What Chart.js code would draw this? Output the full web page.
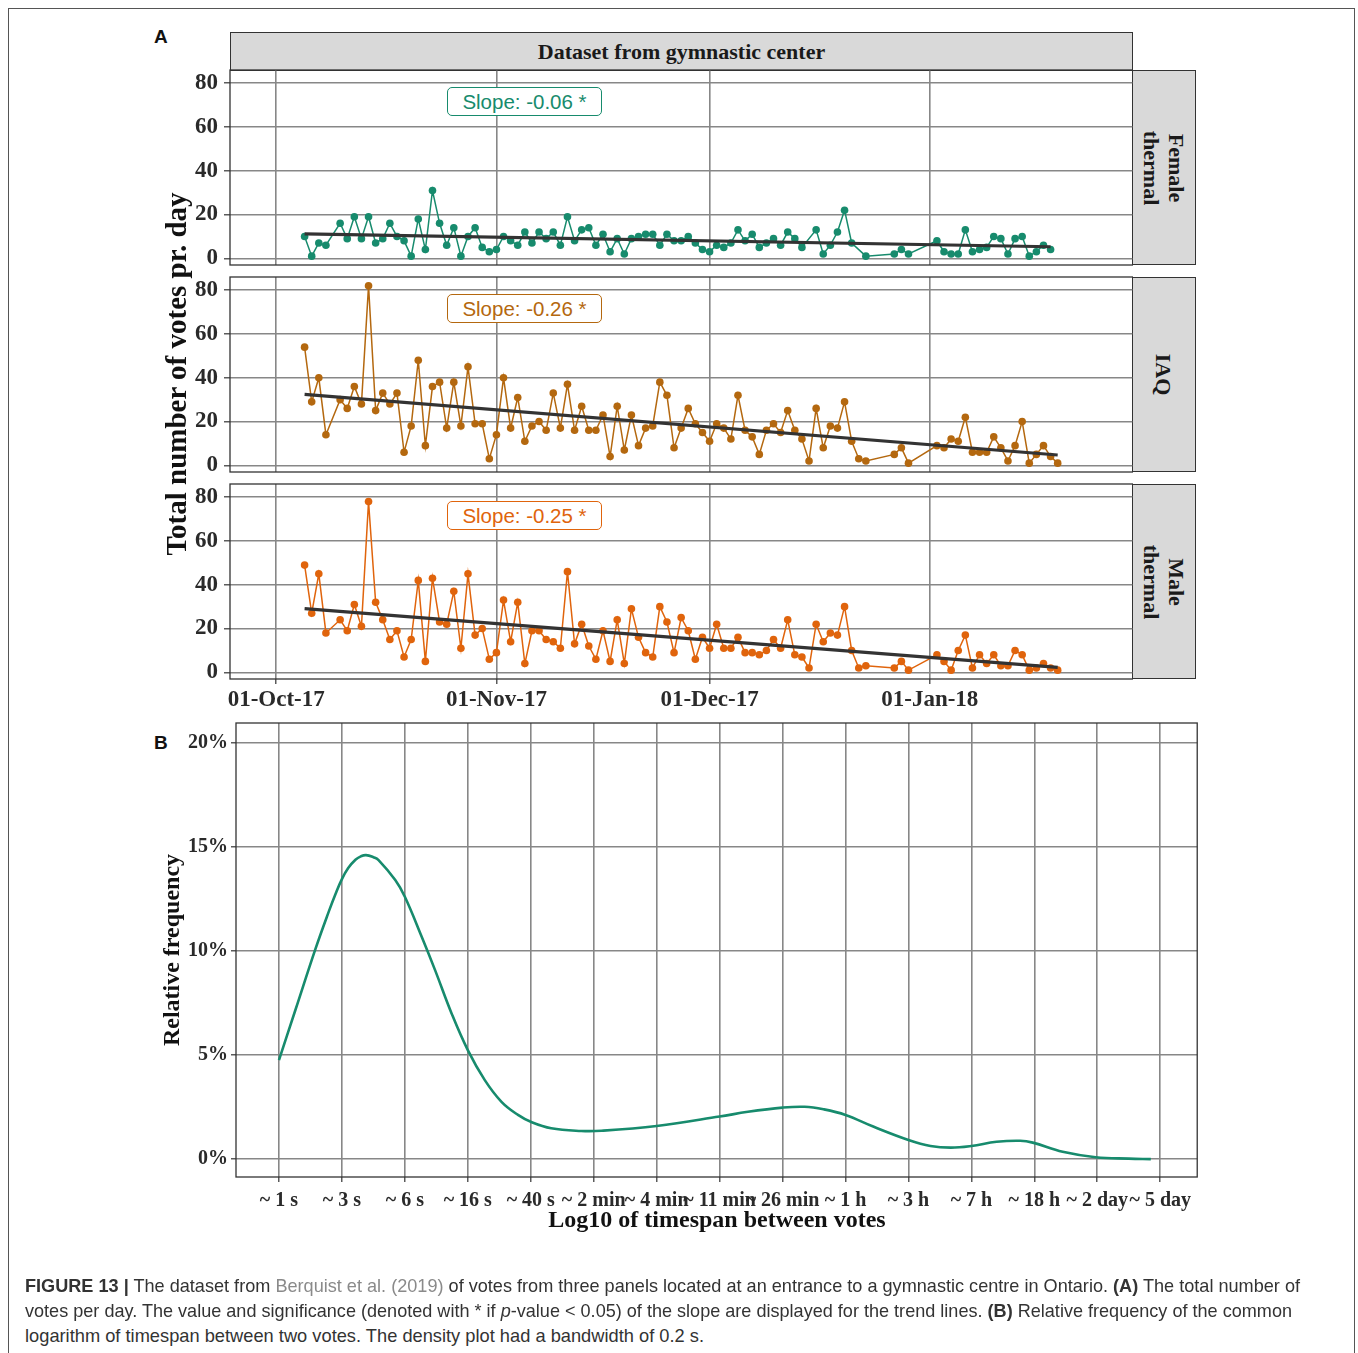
<!DOCTYPE html>
<html>
<head>
<meta charset="utf-8">
<script src="https://cdn.jsdelivr.net/npm/chart.js@4.4.1/dist/chart.umd.min.js"></script>
<style>
  body { margin: 0; width: 1358px; height: 1353px; background: #fff; position: relative; overflow: hidden; font-family: "Liberation Serif", serif; color: #222; }
  canvas { position: absolute; }
  .frame { position: absolute; left: 8px; top: 8px; width: 1347px; height: 1400px; border: 1px solid #555; box-sizing: border-box; }
  .letter { position: absolute; font: bold 19px "Liberation Sans", sans-serif; color: #111; }
  .strip { position: absolute; background: #d9d9d9; border: 1px solid #333; box-sizing: border-box; font-weight: bold; font-size: 22px; display: flex; align-items: center; justify-content: center; color: #1a1a1a; }
  .vstrip span { display: block; transform: rotate(90deg); white-space: nowrap; text-align: center; line-height: 25px; }
  .slope { position: absolute; width: 155px; height: 29px; box-sizing: border-box; border: 1px solid; border-radius: 5px; background: #fff; font: 20.5px "Liberation Sans", sans-serif; display: flex; align-items: center; justify-content: center; z-index: 2; }
  .vtitle { position: absolute; width: 700px; text-align: center; font-weight: bold; line-height: 1; transform: translate(-50%, -50%) rotate(-90deg); white-space: nowrap; color: #111; }
  .htitle { position: absolute; width: 700px; text-align: center; font-weight: bold; line-height: 1; transform: translate(-50%, -50%); white-space: nowrap; color: #111; }
  .capline { position: absolute; left: 25px; font: 19px "Liberation Sans", sans-serif; line-height: 25px; color: #333; white-space: nowrap; transform-origin: 0 50%; }
  .capline .ref { color: #8a8a8a; }
</style>
</head>
<body>
<div class="frame"></div>
<div class="letter" style="left:154px;top:26px;">A</div>
<div class="letter" style="left:154px;top:732px;">B</div>

<div class="strip" style="left:230px;top:32px;width:903px;height:39px;">Dataset from gymnastic center</div>
<div class="strip vstrip" style="left:1132px;top:70px;width:64px;height:195px;"><span>Female<br>thermal</span></div>
<div class="strip vstrip" style="left:1132px;top:277px;width:64px;height:195px;"><span>IAQ</span></div>
<div class="strip vstrip" style="left:1132px;top:484px;width:64px;height:195px;"><span>Male<br>thermal</span></div>

<div class="slope" id="s1" style="left:447px;top:87px;"></div>
<div class="slope" id="s2" style="left:447px;top:294px;"></div>
<div class="slope" id="s3" style="left:447px;top:501px;"></div>

<canvas id="c1"></canvas>
<canvas id="c2"></canvas>
<canvas id="c3"></canvas>
<canvas id="c4"></canvas>

<div class="vtitle" style="left:176px;top:374px;font-size:29px;">Total number of votes pr. day</div>
<div class="vtitle" style="left:171px;top:950px;font-size:24px;">Relative frequency</div>
<div class="htitle" style="left:717px;top:1219px;font-size:24px;">Log10 of timespan between votes</div>

<div class="capline" data-w="1275" style="top:1273px;"><b>FIGURE 13 |</b> The dataset from <span class="ref">Berquist et al. (2019)</span> of votes from three panels located at an entrance to a gymnastic centre in Ontario. <b>(A)</b> The total number of</div>
<div class="capline" data-w="1267" style="top:1298px;">votes per day. The value and significance (denoted with * if <i>p</i>-value &lt; 0.05) of the slope are displayed for the trend lines. <b>(B)</b> Relative frequency of the common</div>
<div class="capline" data-w="679" style="top:1323px;">logarithm of timespan between two votes. The density plot had a bandwidth of 0.2 s.</div>

<script>
// Days counted from 01-Oct-17 (day 0)
const femaleDays = [4,5,6,7,9,10,11,12,13,14,15,16,17,18,19,20,21,22,23,24,25,26,27,28,29,30,31,32,33,34,35,36,37,38,39,40,41,42,43,44,45,46,47,48,49,50,51,52,53,54,55,56,57,58,59,60,61,62,63,64,65,66,67,68,69,70,71,72,73,74,76,77,78,79,80,81,83,87,88,89,93,94,95,96,97,98,99,100,101,102,103,104,105,106,107,108,109];
const femaleVotes = [10,1,7,6,16,9,19,9,19,7,9,16,10,8,1,18,4,31,16,6,14,1,10,14,5,3,4,10,8,6,12,7,12,9,12,6,19,8,13,14,6,11,3,9,2,9,10,11,11,6,11,8,8,10,7,4,3,6,5,7,13,8,11,5,7,9,6,12,9,5,13,2,6,12,22,7,1,2,4,2,8,3,2,2,13,3,4,5,10,9,2,9,10,1,3,6,4];

const iaqDays = [4,5,6,7,9,10,11,12,13,14,15,16,17,18,19,20,21,22,23,24,25,26,27,28,29,30,31,32,33,34,35,36,37,38,39,40,41,42,43,44,45,46,47,48,49,50,51,52,53,54,55,56,57,58,59,60,61,62,63,64,65,66,67,68,69,70,71,72,73,74,75,76,77,78,79,80,81,82,83,87,88,89,93,94,95,96,97,98,99,100,101,102,103,104,105,106,107,108,109,110];
const iaqVotes = [54,29,40,14,30,26,36,28,82,25,33,28,33,6,18,48,9,36,38,17,38,18,45,19,19,3,14,40,17,31,11,18,20,16,33,17,37,16,27,16,16,23,4,27,7,23,9,17,18,38,32,8,17,26,19,15,11,19,17,12,32,16,13,5,16,19,15,25,16,12,2,26,8,18,17,29,11,3,2,5,8,1,9,8,12,11,22,6,6,6,13,8,2,9,20,1,5,9,4,1];

const maleDays = [4,5,6,7,9,10,11,12,13,14,15,16,17,18,19,20,21,22,23,24,25,26,27,28,29,30,31,32,33,34,35,36,37,38,39,40,41,42,43,44,45,46,47,48,49,50,51,52,53,54,55,56,57,58,59,60,61,62,63,64,65,66,67,68,69,70,71,72,73,74,75,76,77,78,79,80,81,82,83,87,88,89,93,94,95,96,97,98,99,100,101,102,103,104,105,106,107,108,109,110];
const maleVotes = [49,27,45,18,24,19,31,21,78,32,24,15,19,7,15,42,5,43,23,22,37,11,45,17,20,6,9,33,14,32,4,19,19,15,14,11,46,13,22,12,6,19,5,24,4,29,16,9,7,30,23,9,25,19,6,16,11,22,11,11,16,9,9,8,10,15,11,24,8,7,2,22,14,18,17,30,10,2,3,2,5,1,8,5,1,10,17,2,8,4,8,3,3,10,8,1,2,4,2,1];

const slopeTexts = ["Slope: -0.06 *", "Slope: -0.26 *", "Slope: -0.25 *"];

const dateTicks = [0, 31, 61, 92];
const dateLabels = ["01-Oct-17", "01-Nov-17", "01-Dec-17", "01-Jan-18"];
const voteTicks = [0, 20, 40, 60, 80];

// Panel B: density of log10(seconds between votes), in %
const densityX = [0,0.106,0.232,0.317,0.36,0.4,0.44,0.486,0.52,0.553,0.6,0.633,0.739,0.8,0.907,0.992,1.097,1.2,1.308,1.414,1.519,1.6,1.73,1.92,2.05,2.4,2.8,2.98,3.2,3.34,3.46,3.6,3.78,4.0,4.14,4.27,4.4,4.56,4.71,4.79,4.98,5.19,5.4,5.54];
const densityY = [4.76,7.2,10.1,11.9,12.75,13.45,13.98,14.38,14.54,14.6,14.5,14.36,13.4,12.6,10.68,9.08,7.0,5.24,3.8,2.76,2.13,1.8,1.49,1.36,1.37,1.6,2.05,2.28,2.48,2.52,2.4,2.13,1.56,0.93,0.64,0.56,0.64,0.84,0.89,0.8,0.36,0.1,0.03,0.01];
const logTicks = [0,0.4,0.8,1.2,1.6,2.0,2.4,2.8,3.2,3.6,4.0,4.4,4.8,5.2,5.6];
const logLabels = ["~ 1 s","~ 3 s","~ 6 s","~ 16 s","~ 40 s","~ 2 min","~ 4 min","~ 11 min","~ 26 min","~ 1 h","~ 3 h","~ 7 h","~ 18 h","~ 2 day","~ 5 day"];
const freqTicks = [0, 5, 10, 15, 20];

const tickFont = { family: "Liberation Serif", weight: "bold", size: 23 };
const gridColor = "#878787";

// draws the dark frame round each panel
const panelBorder = {
  id: "panelBorder",
  afterDraw(chart) {
    const { ctx, chartArea: a } = chart;
    ctx.save();
    ctx.strokeStyle = "#333";
    ctx.lineWidth = 1.3;
    ctx.strokeRect(a.left, a.top, a.right - a.left, a.bottom - a.top);
    ctx.restore();
  }
};

// least squares line over the days that have votes
function trendLine(days, votes) {
  const n = days.length;
  const mx = days.reduce((s, v) => s + v, 0) / n;
  const my = votes.reduce((s, v) => s + v, 0) / n;
  let sxy = 0, sxx = 0;
  for (let i = 0; i < n; i++) {
    sxy += (days[i] - mx) * (votes[i] - my);
    sxx += (days[i] - mx) * (days[i] - mx);
  }
  const b = sxy / sxx;
  const a = my - b * mx;
  return [{ x: days[0], y: a + b * days[0] }, { x: days[n - 1], y: a + b * days[n - 1] }];
}

function placeCanvas(id, left, top, width, height) {
  const c = document.getElementById(id);
  c.width = width;
  c.height = height;
  c.style.left = left + "px";
  c.style.top = top + "px";
  c.style.width = width + "px";
  c.style.height = height + "px";
  return c;
}

const facets = [
  { id: "c1", slope: "s1", top: 70, days: femaleDays, votes: femaleVotes, color: "#178b6d", text: slopeTexts[0], xlab: false },
  { id: "c2", slope: "s2", top: 277, days: iaqDays, votes: iaqVotes, color: "#b4680f", text: slopeTexts[1], xlab: false },
  { id: "c3", slope: "s3", top: 484, days: maleDays, votes: maleVotes, color: "#e0640c", text: slopeTexts[2], xlab: true }
];

facets.forEach((f) => {
  const s = document.getElementById(f.slope);
  s.textContent = f.text;
  s.style.color = f.color;
  s.style.borderColor = f.color;

  const pad = 24;
  const axisH = 40;
  const canvas = placeCanvas(f.id, 130, f.top - pad, 1003, pad + 195 + (f.xlab ? axisH : pad));
  const points = f.days.map((d, i) => ({ x: d, y: f.votes[i] }));

  new Chart(canvas, {
    type: "line",
    data: {
      datasets: [
        {
          data: trendLine(f.days, f.votes),
          borderColor: "#333",
          borderWidth: 3.2,
          pointRadius: 0
        },
        {
          data: points,
          borderColor: f.color,
          backgroundColor: f.color,
          borderWidth: 1.5,
          pointRadius: 3.8,
          pointBorderWidth: 0,
          tension: 0
        }
      ]
    },
    options: {
      responsive: false,
      animation: false,
      devicePixelRatio: 1,
      layout: { autoPadding: false, padding: { top: pad, bottom: f.xlab ? 0 : pad, left: 0, right: 0 } },
      plugins: { legend: { display: false }, tooltip: { enabled: false } },
      scales: {
        x: {
          type: "linear",
          min: -6.5,
          max: 120.6,
          afterBuildTicks: (scale) => { scale.ticks = dateTicks.map((v) => ({ value: v })); },
          afterFit: (scale) => { scale.height = f.xlab ? axisH : 0; },
          border: { display: false },
          grid: { color: gridColor, lineWidth: 1.6, drawTicks: f.xlab, tickLength: 5, tickColor: "#333", tickWidth: 1.2 },
          ticks: {
            display: f.xlab,
            autoSkip: false,
            maxRotation: 0,
            padding: 2,
            color: "#2a2a2a",
            font: tickFont,
            callback: (v) => dateLabels[dateTicks.indexOf(v)]
          }
        },
        y: {
          min: -3.05,
          max: 86.05,
          afterBuildTicks: (scale) => { scale.ticks = voteTicks.map((v) => ({ value: v })); },
          afterFit: (scale) => { scale.width = 100; },
          border: { display: false },
          grid: { color: gridColor, lineWidth: 1.6, tickLength: 6, tickColor: "#333", tickWidth: 1.2 },
          ticks: { padding: 6, color: "#2a2a2a", font: tickFont }
        }
      }
    },
    plugins: [panelBorder]
  });
});

// Panel B
const bCanvas = placeCanvas("c4", 130, 707, 1068, 16 + 454 + 40);
new Chart(bCanvas, {
  type: "line",
  data: {
    datasets: [{
      data: densityX.map((x, i) => ({ x: x, y: densityY[i] })),
      borderColor: "#178b6d",
      borderWidth: 2.6,
      pointRadius: 0,
      tension: 0.4
    }]
  },
  options: {
    responsive: false,
    animation: false,
    devicePixelRatio: 1,
    layout: { autoPadding: false, padding: { top: 16, bottom: 0, left: 0, right: 0 } },
    plugins: { legend: { display: false }, tooltip: { enabled: false } },
    scales: {
      x: {
        type: "linear",
        min: -0.273,
        max: 5.835,
        afterBuildTicks: (scale) => { scale.ticks = logTicks.map((v) => ({ value: v })); },
        afterFit: (scale) => { scale.height = 40; },
        border: { display: false },
        grid: { color: gridColor, lineWidth: 1.6, tickLength: 5, tickColor: "#333", tickWidth: 1.2 },
        ticks: {
          autoSkip: false,
          maxRotation: 0,
          minRotation: 0,
          padding: 7,
          color: "#2a2a2a",
          font: { family: "Liberation Serif", weight: "bold", size: 20 },
          callback: (v) => logLabels[logTicks.findIndex((t) => Math.abs(t - v) < 1e-6)]
        }
      },
      y: {
        min: -0.85,
        max: 20.94,
        afterBuildTicks: (scale) => { scale.ticks = freqTicks.map((v) => ({ value: v })); },
        afterFit: (scale) => { scale.width = 106; },
        border: { display: false },
        grid: { color: gridColor, lineWidth: 1.6, tickLength: 5, tickColor: "#333", tickWidth: 1.2 },
        ticks: {
          padding: 3,
          color: "#2a2a2a",
          font: { family: "Liberation Serif", weight: "bold", size: 20 },
          callback: (v) => v + "%"
        }
      }
    }
  },
  plugins: [panelBorder]
});

// squeeze each caption line to the width it has in the figure
document.querySelectorAll(".capline").forEach((el) => {
  const w = el.getBoundingClientRect().width;
  el.style.transform = "scaleX(" + (Number(el.dataset.w) / w) + ")";
});
</script>
</body>
</html>
